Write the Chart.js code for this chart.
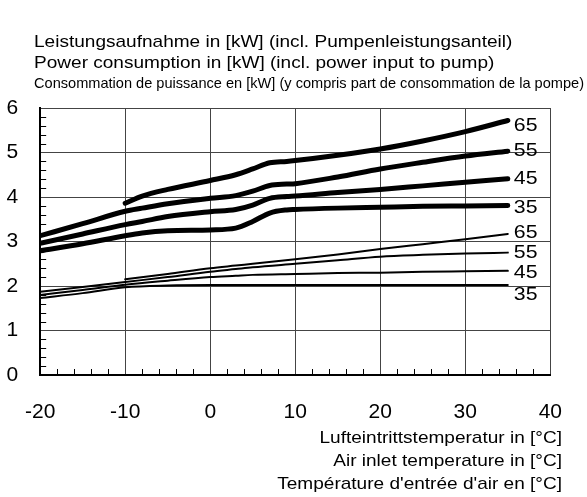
<!DOCTYPE html>
<html>
<head>
<meta charset="utf-8">
<script src="https://cdn.jsdelivr.net/npm/chart.js@4/dist/chart.umd.min.js"></script>
<style>
    html, body { margin: 0; padding: 0; background: #fff; }
    #wrap { width: 587px; height: 497px; }
</style>
</head>
<body>
<div id="wrap"><canvas id="powerChart" width="587" height="497"></canvas></div>
<script>
// x-Werte (Lufteintrittstemperatur °C)
const tempThick = [-20, -15, -10, -8, -5, 0, 3, 5, 7, 9, 10, 15, 20, 25, 30, 35];
const tempThin = [-20, -15, -10, -5, 0, 3, 5, 10, 15, 20, 25, 30, 35];

// dicke Linien (obere Gruppe)
const thick65 = [null, null, 3.86, 4.02, 4.17, 4.37, 4.5, 4.63, 4.77, 4.8, 4.82, 4.94, 5.08, 5.26, 5.47, 5.72];
const thick55 = [3.13, 3.4, 3.68, 3.75, 3.85, 3.97, 4.03, 4.13, 4.26, 4.29, 4.3, 4.45, 4.63, 4.78, 4.92, 5.03];
const thick45 = [2.96, 3.17, 3.38, 3.45, 3.56, 3.67, 3.72, 3.82, 3.97, 4.01, 4.02, 4.1, 4.17, 4.25, 4.33, 4.41];
const thick35 = [2.79, 2.95, 3.13, 3.19, 3.24, 3.26, 3.3, 3.45, 3.64, 3.71, 3.72, 3.75, 3.77, 3.79, 3.8, 3.81];

// dünne Linien (untere Gruppe)
const thin65 = [null, null, 2.15, 2.27, 2.4, 2.46, 2.5, 2.6, 2.71, 2.83, 2.94, 3.05, 3.17];
const thin55 = [1.87, 1.98, 2.09, 2.2, 2.32, 2.38, 2.42, 2.5, 2.58, 2.66, 2.7, 2.73, 2.75];
const thin45 = [1.8, 1.91, 2.03, 2.12, 2.2, 2.23, 2.25, 2.27, 2.29, 2.3, 2.32, 2.33, 2.34];
const thin35 = [1.73, 1.84, 1.97, 2.01, 2.02, 2.02, 2.02, 2.02, 2.02, 2.02, 2.02, 2.02, 2.02];

const curveNames = ['65', '55', '45', '35', '65', '55', '45', '35'];

const titleLines = [
    'Leistungsaufnahme in [kW] (incl. Pumpenleistungsanteil)',
    'Power consumption in [kW] (incl. power input to pump)',
    'Consommation de puissance en [kW] (y compris part de consommation de la pompe)'
];
const xTitleLines = [
    'Lufteintrittstemperatur in [°C]',
    'Air inlet temperature in [°C]',
    'Température d\'entrée d\'air en [°C]'
];

const FONT = '"Liberation Sans", Arial, sans-serif';
const SX = 1.12; // Schrift im Original etwas breiter

function toPoints(xs, ys) {
    return xs.map((x, i) => ({ x: x, y: ys[i] }));
}

function curve(xs, ys, width) {
    return {
        data: toPoints(xs, ys),
        borderColor: '#000',
        borderWidth: width,
        borderCapStyle: 'round',
        borderJoinStyle: 'round',
        pointRadius: 0,
        fill: false,
        cubicInterpolationMode: 'monotone',
        spanGaps: false
    };
}

function wideText(ctx, text, x, y, align, maxW) {
    ctx.save();
    ctx.translate(x, y);
    ctx.scale(SX, 1);
    ctx.textAlign = align;
    if (maxW) ctx.fillText(text, 0, 0, maxW / SX);
    else ctx.fillText(text, 0, 0);
    ctx.restore();
}

// Beschriftung 65/55/45/35 am Kurvenende, Versatz in px
const labelDy = [5, 0, 0, 2, -1, 0, 2, 10];

const extras = {
    id: 'extras',
    beforeDatasetsDraw(chart) {
        const ctx = chart.ctx;
        const xs = chart.scales.x;
        const ys = chart.scales.y;
        const area = chart.chartArea;
        ctx.save();
        ctx.strokeStyle = '#000';
        ctx.lineWidth = 1;
        ctx.beginPath();
        // kleine Teilstriche y (0.2)
        for (let v = 0.2; v < 6; v += 0.2) {
            if (Math.abs(v - Math.round(v)) < 0.01) continue;
            const py = Math.round(ys.getPixelForValue(v)) + 0.5;
            ctx.moveTo(area.left, py);
            ctx.lineTo(area.left + 6, py);
        }
        // kleine Teilstriche x (2)
        for (let v = -18; v < 40; v += 2) {
            if (v % 10 === 0) continue;
            const px = Math.round(xs.getPixelForValue(v)) + 0.5;
            ctx.moveTo(px, area.bottom);
            ctx.lineTo(px, area.bottom - 6);
        }
        ctx.stroke();
        ctx.restore();
    },
    afterDraw(chart) {
        const ctx = chart.ctx;
        ctx.save();
        ctx.fillStyle = '#000';
        ctx.textBaseline = 'middle';

        // Titel
        ctx.font = '17px ' + FONT;
        wideText(ctx, titleLines[0], 34, 42, 'left');
        wideText(ctx, titleLines[1], 34, 63, 'left');
        ctx.font = '15px ' + FONT;
        wideText(ctx, titleLines[2], 34, 84, 'left', 550);

        // x-Achsentitel
        ctx.font = '17px ' + FONT;
        xTitleLines.forEach((t, i) => wideText(ctx, t, 562, 438 + i * 23, 'right'));

        // Kurvennamen
        ctx.font = '19px ' + FONT;
        chart.data.datasets.forEach((ds, i) => {
            const meta = chart.getDatasetMeta(i);
            const last = meta.data[meta.data.length - 1];
            wideText(ctx, curveNames[i], last.x + 6, last.y + labelDy[i], 'left');
        });
        ctx.restore();
    }
};

const chart = new Chart(document.getElementById('powerChart'), {
    type: 'line',
    data: {
        datasets: [
            curve(tempThick, thick65, 5),
            curve(tempThick, thick55, 5),
            curve(tempThick, thick45, 5),
            curve(tempThick, thick35, 5),
            curve(tempThin, thin65, 2),
            curve(tempThin, thin55, 2),
            curve(tempThin, thin45, 2),
            curve(tempThin, thin35, 2)
        ]
    },
    options: {
        responsive: false,
        animation: false,
        layout: { padding: { top: 108, right: 33, left: 0, bottom: 0 } },
        plugins: {
            legend: { display: false },
            tooltip: { enabled: false }
        },
        scales: {
            x: {
                type: 'linear',
                min: -20,
                max: 40,
                ticks: {
                    stepSize: 10,
                    color: '#000',
                    font: { family: FONT, size: 21 },
                    padding: 25
                },
                grid: { color: '#444', lineWidth: 1, drawTicks: false },
                border: { color: '#000', width: 2 },
                afterFit(scale) { scale.height = 122; }
            },
            y: {
                min: 0,
                max: 6,
                ticks: {
                    stepSize: 1,
                    color: '#000',
                    font: { family: FONT, size: 21 },
                    padding: 22
                },
                grid: { color: '#444', lineWidth: 1, drawTicks: false },
                border: { color: '#000', width: 2 },
                afterFit(scale) { scale.width = 40; }
            }
        }
    },
    plugins: [extras]
});
</script>
</body>
</html>
